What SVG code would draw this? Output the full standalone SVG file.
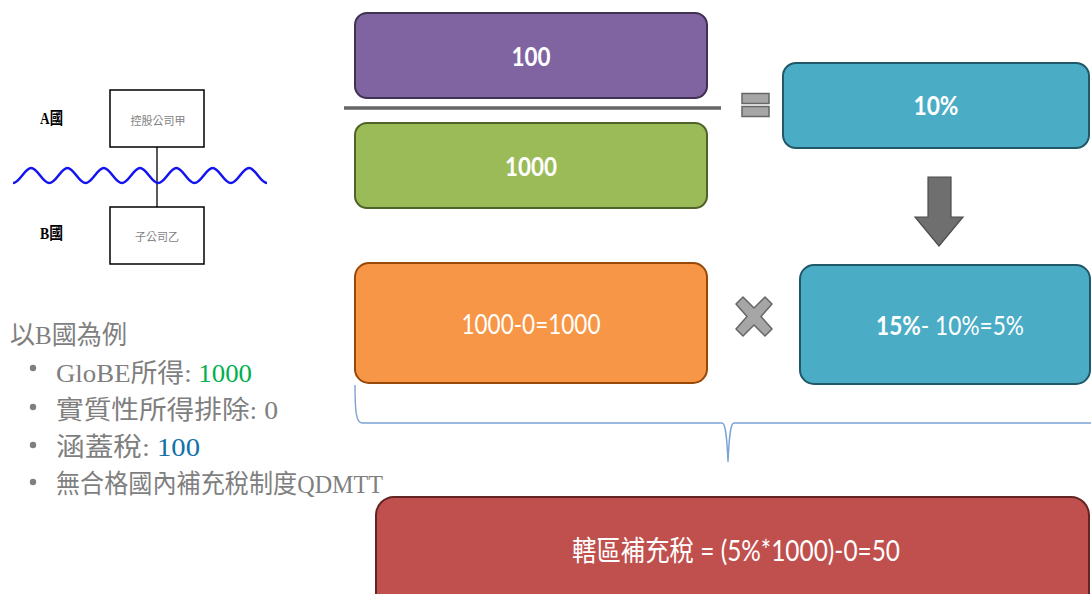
<svg xmlns="http://www.w3.org/2000/svg" width="1091" height="594" viewBox="0 0 1091 594">
<style>
.lbl{font-family:"Liberation Serif","Noto Sans CJK TC",serif}
.lst{font-family:"Liberation Serif","Noto Sans CJK TC",serif;fill:#7F7F7F;font-size:26px}
.bx{font-family:Lato,"Noto Sans CJK TC",sans-serif;fill:#fff;text-anchor:middle}
.bl{font-family:Lato,"Noto Sans CJK TC",sans-serif;fill:#fff}
.b{font-weight:bold}
.sm{font-family:"Noto Sans CJK TC",sans-serif;font-size:11px;fill:#7F7F7F;text-anchor:middle}
</style>
<defs>
<clipPath id="wc"><rect x="12" y="150" width="256" height="50"/></clipPath>
</defs>
<rect width="1091" height="594" fill="#fff"/>

<g id="countryA">
<text class="lbl b" x="40" y="124" font-size="17" textLength="23" lengthAdjust="spacingAndGlyphs">A國</text>
</g>
<g id="countryB">
<text class="lbl b" x="40" y="239" font-size="17" textLength="23" lengthAdjust="spacingAndGlyphs">B國</text>
</g>
<g id="holdco">
<rect x="110" y="90" width="94" height="57" fill="#fff" stroke="#000" stroke-width="1.5"/>
<text class="sm" x="158" y="125">控股公司甲</text>
</g>
<g id="subco">
<rect x="110" y="207" width="94" height="57" fill="#fff" stroke="#000" stroke-width="1.5"/>
<text class="sm" x="157" y="241">子公司乙</text>
</g>
<g id="connectors">
<line x1="157" y1="147" x2="157" y2="207" stroke="#000" stroke-width="1.3"/>
<path clip-path="url(#wc)" fill="none" stroke="#1414F0" stroke-width="2.5" d="M13,183 C19.6,183 24.7,168 31.15,168 C37.6,168 42.7,183 49.3,183 C55.9,183 61,168 67.45,168 C73.9,168 79,183 85.6,183 C92.2,183 97.3,168 103.75,168 C110.2,168 115.3,183 121.9,183 C128.5,183 133.6,168 140.05,168 C146.5,168 151.6,183 158.2,183 C164.8,183 169.9,168 176.35,168 C182.8,168 187.9,183 194.5,183 C201.1,183 206.2,168 212.65,168 C219.1,168 224.2,183 230.8,183 C237.4,183 242.5,168 248.95,168 C255.4,168 260.5,183 267,183"/>
<path fill="none" stroke="#7BA3D4" stroke-width="1.4" d="M355,385 C355,410 356,423 362,423 L722,423 C726,423 727,440 728,462 C729,440 730,423 734,423 L1091,423"/>
<line x1="344" y1="108" x2="721" y2="108" stroke="#666" stroke-width="3.5"/>
</g>

<g id="list">
<text class="lst" x="10" y="344" textLength="117" lengthAdjust="spacingAndGlyphs">以B國為例</text>
<circle cx="33" cy="368" r="3.2" fill="#7F7F7F"/>
<circle cx="33" cy="407" r="3.2" fill="#7F7F7F"/>
<circle cx="33" cy="445" r="3.2" fill="#7F7F7F"/>
<circle cx="33" cy="482" r="3.2" fill="#7F7F7F"/>
<text class="lst" x="56" y="382" textLength="196" lengthAdjust="spacingAndGlyphs">GloBE所得: <tspan fill="#00B050">1000</tspan></text>
<text class="lst" x="56" y="419" textLength="222" lengthAdjust="spacingAndGlyphs">實質性所得排除: 0</text>
<text class="lst" x="56" y="456" textLength="144" lengthAdjust="spacingAndGlyphs">涵蓋稅: <tspan fill="#1170A8">100</tspan></text>
<text class="lst" x="56" y="493" textLength="327" lengthAdjust="spacingAndGlyphs">無合格國內補充稅制度QDMTT</text>
</g>

<g id="numerator">
<rect x="355" y="13" width="352" height="85" rx="12" fill="#8064A2" stroke="#3F3151" stroke-width="2"/>
<text class="bx b" x="531" y="66" font-size="27" textLength="39" lengthAdjust="spacingAndGlyphs">100</text>
</g>
<g id="denominator">
<rect x="355" y="123" width="352" height="85" rx="12" fill="#9BBB59" stroke="#4F6228" stroke-width="2"/>
<text class="bx b" x="531" y="176" font-size="27" textLength="52" lengthAdjust="spacingAndGlyphs">1000</text>
</g>
<g id="equals">
<rect x="742" y="93.5" width="27" height="10" fill="#A6A6A6" stroke="#666" stroke-width="1.5"/>
<rect x="742" y="106.5" width="27" height="10" fill="#A6A6A6" stroke="#666" stroke-width="1.5"/>
</g>
<g id="rate">
<rect x="783" y="63" width="306" height="85" rx="13" fill="#4BACC6" stroke="#215868" stroke-width="2"/>
<text class="bx b" x="936" y="115" font-size="27" textLength="45" lengthAdjust="spacingAndGlyphs">10%</text>
</g>
<g id="arrow">
<polygon points="928,177 951,177 951,217 963,217 939,246 915,217 928,217" fill="#6F6F6F" stroke="#4D4D4D" stroke-width="1.2"/>
</g>
<g id="income">
<rect x="355" y="263" width="352" height="120" rx="14" fill="#F79646" stroke="#984807" stroke-width="2"/>
<text class="bx" x="531" y="334" font-size="26" textLength="139" lengthAdjust="spacingAndGlyphs">1000-0=1000</text>
</g>
<g id="times">
<polygon points="743,297 754,308 765,297 772,304 761,316.5 772,329 765,336 754,325 743,336 736,329 747,316.5 736,304" fill="#A6A6A6" stroke="#666" stroke-width="1.5" stroke-linejoin="round"/>
</g>
<g id="topup">
<rect x="800" y="265" width="290" height="119" rx="14" fill="#4BACC6" stroke="#215868" stroke-width="2"/>
<g transform="translate(950,335) scale(0.84,1)">
<text class="bx" x="0" y="0" font-size="27"><tspan class="b">15%</tspan>- 10%=5%</text>
</g>
</g>
<g id="result">
<rect x="376" y="497" width="713" height="115" rx="18" fill="#C0504D" stroke="#632523" stroke-width="2"/>
<text class="bx" x="736" y="561" font-size="28" textLength="328" lengthAdjust="spacingAndGlyphs">轄區補充稅 = (5%*1000)-0=50</text>
</g>
</svg>
